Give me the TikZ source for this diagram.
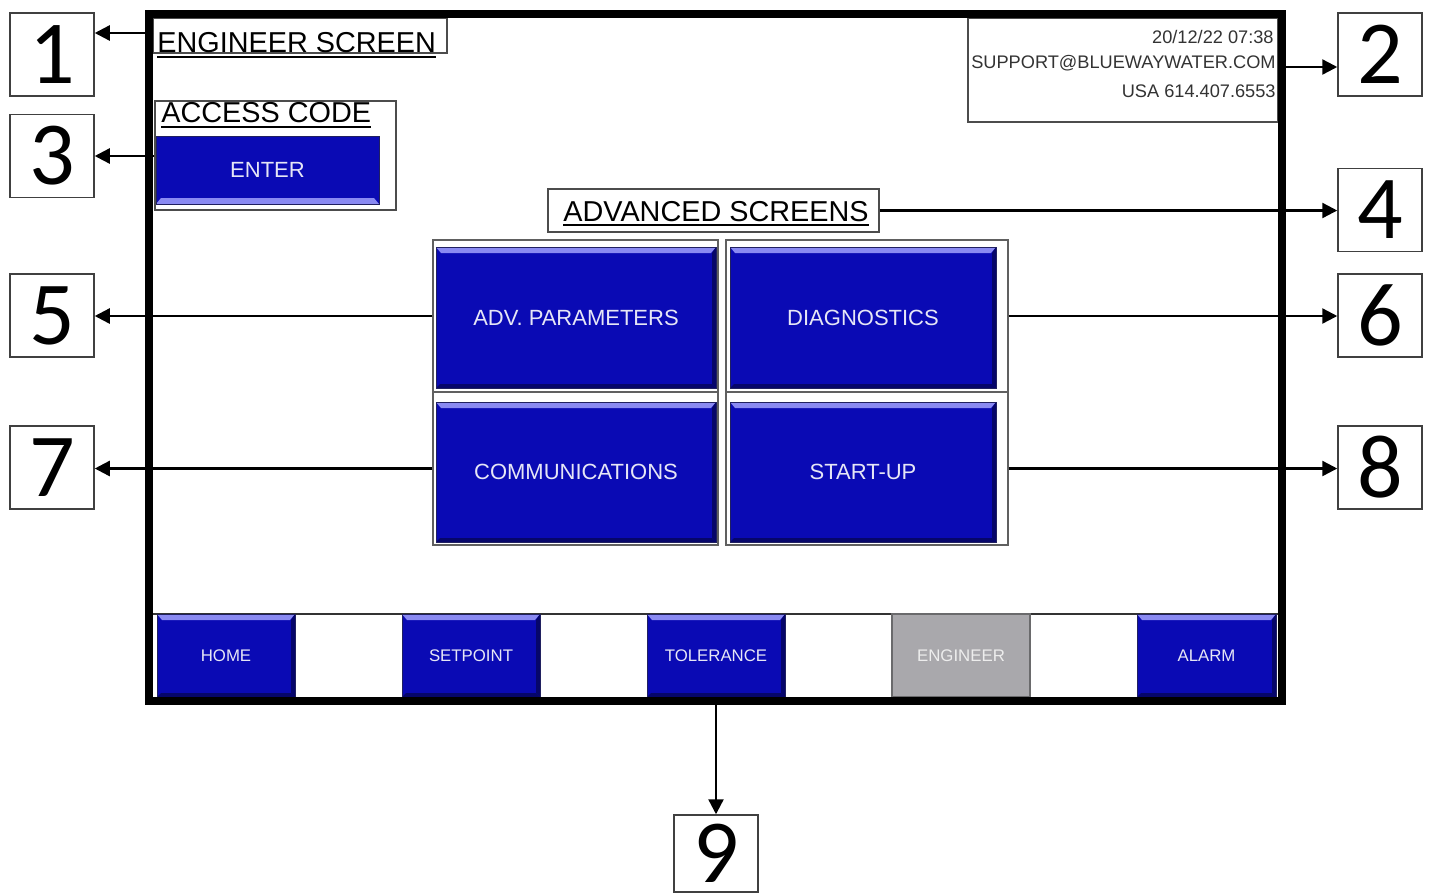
\documentclass[tikz,border=0pt]{standalone}
\usepackage{fontspec}
\setmainfont{Liberation Sans}
\newfontfamily\numfont{Carlito}
\usetikzlibrary{arrows.meta,fit}
\definecolor{btnblue}{HTML}{0A0AB4}
\definecolor{btnedge}{HTML}{202060}
\definecolor{bevlight}{HTML}{8A8AF2}
\definecolor{bevdark}{HTML}{06066A}
\definecolor{btntext}{HTML}{E6E6F6}
\definecolor{btngray}{HTML}{A9A8AC}
\definecolor{grayedge}{HTML}{6A6A6C}
\definecolor{framegray}{HTML}{606060}
\begin{document}
\begin{tikzpicture}[x=0.5pt,y=-0.5pt,
  numbox/.style={draw=black!75, line width=0.75pt, minimum width=42pt, minimum height=41.5pt, inner sep=0pt, font=\numfont\fontsize{45}{45}\selectfont},
  thinbox/.style={draw=black!70, line width=0.6pt, inner sep=0pt},
  grpframe/.style={draw=framegray, line width=0.6pt, inner sep=0pt},
  title/.style={inner sep=0pt, font=\fontsize{14.4}{16}\selectfont},
  infotext/.style={inner sep=0pt, font=\fontsize{9.1}{10}\selectfont, text=black!80},
  conn/.style={line width=1.2pt, -{Triangle[length=7.5pt,width=7.5pt]}},
  uline/.style={line width=1pt},
  btn/.style={draw=btnedge, line width=0.5pt, fill=btnblue, inner sep=0pt,
    path picture={
      \fill[bevlight] (path picture bounding box.north west) -- (path picture bounding box.north east)
        -- ([xshift=-2.5pt,yshift=-3pt]path picture bounding box.north east) -- ([xshift=2.5pt,yshift=-3pt]path picture bounding box.north west) -- cycle;
      \fill[bevdark] (path picture bounding box.south west) -- (path picture bounding box.south east)
        -- ([xshift=-2pt,yshift=2pt]path picture bounding box.south east) -- ([xshift=2pt,yshift=2pt]path picture bounding box.south west) -- cycle;
      \fill[bevdark] (path picture bounding box.north east) -- (path picture bounding box.south east)
        -- ([xshift=-2pt,yshift=2pt]path picture bounding box.south east) -- ([xshift=-2pt,yshift=-3pt]path picture bounding box.north east) -- cycle;
    }},
  btnB/.style={draw=btnedge, line width=0.5pt, fill=btnblue, inner sep=0pt,
    path picture={
      \fill[bevlight] (path picture bounding box.south west) -- (path picture bounding box.south east)
        -- ([xshift=-2.5pt,yshift=3pt]path picture bounding box.south east) -- ([xshift=2.5pt,yshift=3pt]path picture bounding box.south west) -- cycle;
    }},
  grbtn/.style={draw=grayedge, line width=0.8pt, fill=btngray, inner sep=0pt},
  bigtext/.style={inner sep=0pt, text=btntext, font=\fontsize{11}{12}\selectfont},
  navtext/.style={inner sep=0pt, text=btntext, font=\fontsize{8.4}{10}\selectfont},
  graytext/.style={inner sep=0pt, text=white!93!black, font=\fontsize{8.4}{10}\selectfont}
]
\useasboundingbox (0,0) rectangle (1429,895);
\fill[white] (0,0) rectangle (1429,895);

% number boxes
\node[numbox] (n1) at (52,54.5) {1};
\node[numbox] (n3) at (52,156) {3};
\node[numbox] (n5) at (52,315.5) {5};
\node[numbox] (n7) at (52,467.5) {7};
\node[numbox] (n2) at (1380,54.5) {2};
\node[numbox] (n4) at (1380,210) {4};
\node[numbox] (n6) at (1380,315.5) {6};
\node[numbox] (n8) at (1380,467.5) {8};
\node[numbox, minimum height=38.5pt] (n9) at (716,853.5) {9};

% title
\node[thinbox, fit={(153,18) (447,53)}] (esbox) {};
\node[title, anchor=west] (es) at (157,43) {ENGINEER SCREEN};
\draw[uline] ([yshift=-1.5pt]es.south west) -- ([yshift=-1.5pt]es.south east);

% access code
\node[thinbox, fit={(155,101) (396,210)}] (acbox) {};
\node[title, anchor=west] (ac) at (161,113) {ACCESS CODE};
\draw[uline] ([yshift=-1.5pt]ac.south west) -- ([yshift=-1.5pt]ac.south east);
\node[btnB, fit={(156,136) (379,204)}] (enter) {};
\node[bigtext] (enterl) at (enter.center) {ENTER};

% info box
\node[thinbox, fit={(968,18) (1278,122)}] (info) {};
\node[infotext, anchor=east] (d1) at (1274,37) {20/12/22 07:38};
\node[infotext, anchor=east] (d2) at (1276,63) {SUPPORT@BLUEWAYWATER.COM};
\node[infotext, anchor=east] (d3) at (1276,91) {USA 614.407.6553};

% advanced screens
\node[thinbox, fit={(548,189) (879,232)}] (adv) {};
\node[title] (advt) at (716,211.5) {ADVANCED SCREENS};
\draw[uline] ([yshift=-1.5pt]advt.south west) -- ([yshift=-1.5pt]advt.south east);

\node[grpframe, fit={(433,240) (718,392)}] (f1) {};
\node[grpframe, fit={(726,240) (1008,392)}] (f2) {};
\node[grpframe, fit={(433,392) (718,545)}] (f3) {};
\node[grpframe, fit={(726,392) (1008,545)}] (f4) {};
\node[btn, fit={(436,247) (716,388)}] (advp) {};
\node[btn, fit={(730,247) (996,388)}] (diag) {};
\node[btn, fit={(436,402) (716,542)}] (comm) {};
\node[btn, fit={(730,402) (996,542)}] (start) {};
\node[bigtext] (advpl) at (advp.center) {ADV. PARAMETERS};
\node[bigtext] (diagl) at (diag.center) {DIAGNOSTICS};
\node[bigtext] (comml) at (comm.center) {COMMUNICATIONS};
\node[bigtext] (startl) at (start.center) {START-UP};

% navigation bar
\coordinate (navl) at (153,614);
\coordinate (navr) at (1278,614);
\draw[line width=0.6pt, black!80] (navl) -- (navr);
\node[btn, fit={(157,614) (295,697)}] (home) {};
\node[btn, fit={(402,614) (540,697)}] (setp) {};
\node[btn, fit={(647,614) (785,697)}] (tol) {};
\node[grbtn, fit={(892,614) (1030,697)}] (eng) {};
\node[btn, fit={(1137,614) (1276,697)}] (alarm) {};
\node[navtext] (homel) at (home.center) {HOME};
\node[navtext] (setpl) at (setp.center) {SETPOINT};
\node[navtext] (toll) at (tol.center) {TOLERANCE};
\node[graytext] (engl) at (eng.center) {ENGINEER};
\node[navtext] (alarml) at (alarm.center) {ALARM};

% screen frame
\node[draw, line width=4pt, inner sep=0pt, fit={(149,14) (1282,701)}] (screen) {};

% connectors
\coordinate (s1) at (153,33);
\draw[conn] (s1) -- (s1 -| n1.east);
\draw[conn] (acbox.west |- n3.east) -- (n3.east);
\coordinate (s2) at (1278,67);
\draw[conn] (s2) -- (s2 -| n2.west);
\draw[conn] (adv.east) -- (adv.east -| n4.west);
\draw[conn] (f1.west) -- (f1.west -| n5.east);
\draw[conn] (f2.east) -- (f2.east -| n6.west);
\draw[conn] (f3.west) -- (f3.west -| n7.east);
\draw[conn] (f4.east) -- (f4.east -| n8.west);
\draw[conn] (tol.south) -- (n9.north);
\end{tikzpicture}
\end{document}
